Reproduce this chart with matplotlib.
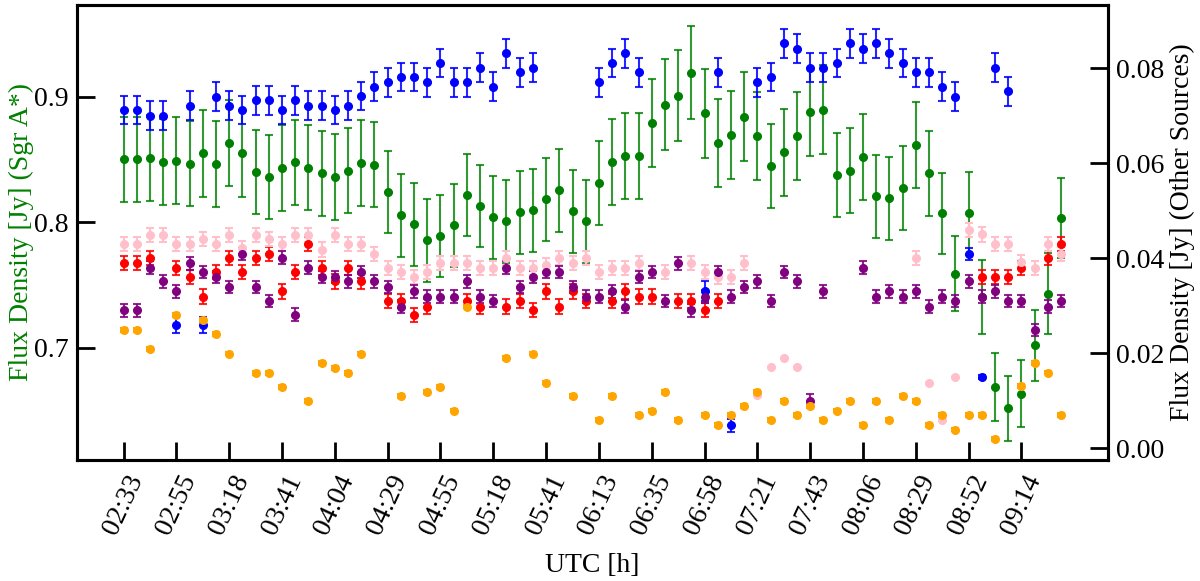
import numpy as np
import matplotlib
matplotlib.use("Agg")
import matplotlib.pyplot as plt

nan = np.nan

tick_labels = ["02:33", "02:55", "03:18", "03:41", "04:04", "04:29", "04:55", "05:18", "05:41",
               "06:13", "06:35", "06:58", "07:21", "07:43", "08:06", "08:29", "08:52", "09:14"]

# Sgr A* (left axis)
sgra = [0.850, 0.850, 0.851, 0.848, 0.849, 0.8465, 0.855, 0.8465, 0.863, 0.855,
        0.840, 0.836, 0.843, 0.8476, 0.8433, 0.839, 0.836, 0.841, 0.847, 0.8457,
        0.824, 0.8056, 0.7984, 0.7856, 0.789, 0.7974, 0.8218, 0.8128, 0.804, 0.8006,
        0.808, 0.8093, 0.8181, 0.8253, 0.8085, 0.8006, 0.8311, 0.848, 0.853, 0.8524,
        0.8788, 0.8936, 0.9008, 0.9189, 0.8868, 0.8633, 0.8694, 0.884, 0.8689, 0.8447,
        0.8556, 0.8684, 0.8875, 0.8896, 0.8375, 0.841, 0.8519, 0.8205, 0.8189, 0.8274,
        0.8615, 0.8389, 0.807, 0.759, 0.807, 0.7404, 0.6686, 0.6518, 0.6633, 0.7018,
        0.7431, 0.8034]
sgra_err = [0.034, 0.034, 0.034, 0.034, 0.0345, 0.034, 0.0346, 0.0343, 0.0346, 0.0346,
            0.0338, 0.0334, 0.0342, 0.034, 0.034, 0.034, 0.034, 0.034, 0.034, 0.034,
            0.033, 0.033, 0.033, 0.033, 0.033, 0.033, 0.0327, 0.0326, 0.033, 0.033,
            0.033, 0.033, 0.0329, 0.0333, 0.033, 0.033, 0.0334, 0.0343, 0.0343, 0.0343,
            0.0351, 0.0362, 0.0363, 0.0371, 0.0355, 0.035, 0.035, 0.0356, 0.035, 0.0338,
            0.0347, 0.0349, 0.035, 0.0354, 0.0338, 0.0339, 0.0343, 0.033, 0.0331, 0.0334,
            0.0346, 0.034, 0.0324, 0.030, 0.033, 0.0297, 0.027, 0.026, 0.0266, 0.0285,
            0.032, 0.032]

# Other sources (right axis)
blue = [0.0712, 0.0712, 0.0700, 0.0700, 0.0260, 0.0721, 0.0260, 0.0740, 0.0721, 0.0712,
        0.0732, 0.0732, 0.0712, 0.0732, 0.0721, 0.0721, 0.0712, 0.0721, 0.0741, 0.0761,
        0.0770, 0.0781, 0.0781, 0.0770, 0.0811, 0.0770, 0.0770, 0.0801, 0.0761, 0.0831,
        0.0791, 0.0801, nan, nan, nan, nan, 0.0770, 0.0811, 0.0831, 0.0791,
        nan, nan, nan, nan, 0.0330, 0.0791, 0.0048, nan, 0.0770, 0.0781,
        0.0852, 0.0841, 0.0801, 0.0801, 0.0811, 0.0852, 0.0841, 0.0852, 0.0831, 0.0811,
        0.0791, 0.0791, 0.0761, 0.0740, 0.0409, 0.0149, 0.0801, 0.0751, nan, nan,
        nan, nan]
blue_err = [0.003, 0.003, 0.003, 0.003, 0.0017, 0.003, 0.0017, 0.003, 0.003, 0.003,
            0.003, 0.003, 0.003, 0.003, 0.003, 0.003, 0.003, 0.003, 0.003, 0.003,
            0.003, 0.003, 0.003, 0.003, 0.003, 0.003, 0.003, 0.003, 0.003, 0.003,
            0.003, 0.003, 0.0, 0.0, 0.0, 0.0, 0.003, 0.003, 0.003, 0.003,
            0.0, 0.0, 0.0, 0.0, 0.0021, 0.003, 0.0014, 0.0, 0.003, 0.003,
            0.003, 0.003, 0.003, 0.003, 0.003, 0.003, 0.003, 0.003, 0.003, 0.003,
            0.003, 0.003, 0.003, 0.003, 0.0012, 0.0004, 0.003, 0.003, 0.0, 0.0,
            0.0, 0.0]

red = [0.0389, 0.0389, 0.0401, nan, 0.0380, 0.0360, 0.0319, 0.0371, 0.0401, 0.0371,
       0.0401, 0.0409, 0.0330, 0.0371, 0.0430, 0.0380, 0.0351, 0.0380, 0.0351, nan,
       0.0310, 0.0310, 0.0281, 0.0298, nan, nan, 0.0310, 0.0298, nan, 0.0298,
       0.0310, 0.0290, 0.0330, 0.0298, 0.0330, 0.0310, nan, 0.0310, 0.0330, 0.0319,
       0.0319, nan, 0.0310, 0.0310, 0.0290, 0.0310, nan, nan, nan, nan,
       nan, nan, nan, nan, nan, nan, nan, nan, nan, nan,
       nan, nan, nan, nan, nan, 0.0360, 0.0360, 0.0360, 0.0380, nan,
       0.0401, 0.0430]

pink = [0.0429, 0.0429, 0.0449, 0.0449, 0.0429, 0.0429, 0.0440, 0.0429, 0.0449, 0.0421,
        0.0449, 0.0440, 0.0429, 0.0449, 0.0449, 0.0418, 0.0449, 0.0429, 0.0430, 0.0409,
        0.0380, 0.0371, 0.0360, 0.0371, 0.0389, 0.0389, 0.0389, 0.0380, 0.0380, 0.0401,
        0.0380, 0.0380, 0.0385, 0.0401, 0.0389, 0.0401, 0.0371, 0.0380, 0.0380, 0.0389,
        nan, 0.0371, nan, 0.0389, 0.0371, 0.0360, 0.0360, 0.0389, 0.0111, 0.0170,
        0.0189, 0.0170, nan, nan, nan, nan, nan, nan, nan, nan,
        0.0401, 0.0138, 0.0060, 0.0149, 0.0460, 0.0450, 0.0430, 0.0430, 0.0392, 0.0380,
        0.0430, 0.0409]
pink_err = [0.0015] * 48 + [0.0, 0.0, 0.0, 0.0] + [0.0015] * 9 + [0.0, 0.0, 0.0] + [0.0015] * 8

purple = [0.0290, 0.0290, 0.0380, 0.0351, 0.0330, 0.0389, 0.0371, 0.0360, 0.0339, 0.0409,
          0.0339, 0.0310, 0.0401, 0.0281, 0.0380, 0.0360, 0.0360, 0.0351, 0.0371, 0.0351,
          0.0339, 0.0298, 0.0330, 0.0319, 0.0319, 0.0319, 0.0351, 0.0319, 0.0310, 0.0380,
          0.0339, 0.0360, 0.0371, 0.0371, 0.0339, 0.0319, 0.0319, 0.0330, 0.0298, 0.0360,
          0.0371, 0.0310, 0.0389, 0.0290, 0.0319, 0.0371, 0.0319, 0.0339, 0.0351, 0.0310,
          0.0371, 0.0351, 0.0100, 0.0330, nan, nan, 0.0380, 0.0319, 0.0330, 0.0319,
          0.0330, 0.0298, 0.0319, 0.0310, 0.0351, 0.0319, 0.0330, 0.0310, 0.0310, 0.0249,
          0.0298, 0.0310]

orange = [0.0249, 0.0249, 0.0208, nan, 0.0281, nan, 0.0270, 0.0240, 0.0199, nan,
          0.0158, 0.0158, 0.0129, nan, 0.0099, 0.0179, 0.0169, 0.0158, 0.0199, nan,
          nan, 0.0109, nan, 0.0118, 0.0129, 0.0079, 0.0298, nan, nan, 0.0189,
          nan, 0.0199, 0.0138, nan, 0.0109, nan, 0.0059, 0.0109, nan, 0.0069,
          0.0079, 0.0118, 0.0059, nan, 0.0069, 0.0049, 0.0069, 0.0089, 0.0119, 0.0059,
          0.0100, 0.0069, 0.0089, 0.0059, 0.0079, 0.0100, 0.0049, 0.0100, 0.0059, 0.0109,
          0.0100, 0.0049, 0.0069, 0.0039, 0.0069, 0.0069, 0.0019, nan, 0.0130, 0.0179,
          0.0159, 0.0069]

red_err = 0.0015
purple_err = 0.0013
orange_err = 0.0004

plt.rcParams['font.family'] = ['Liberation Serif', 'DejaVu Serif']
plt.rcParams['font.size'] = 20

fig = plt.figure(figsize=(12, 5.81), dpi=100)
ax1 = fig.add_axes([0.0639, 0.2083, 0.8594, 0.7831])
ax2 = ax1.twinx()

x = np.arange(len(sgra))

ekw = dict(fmt='o', markersize=5.5, capsize=3, elinewidth=1.5, capthick=1.5)

ax1.errorbar(x, sgra, yerr=sgra_err, color='green', ecolor=(0.0, 0.5, 0.0, 0.8), **ekw)

ax2.errorbar(x, blue, yerr=blue_err, color='blue', ecolor=(0, 0, 1, 0.85), **ekw)
ax2.errorbar(x, red, yerr=red_err, color='red', ecolor=(1, 0, 0, 0.85), **ekw)
ax2.errorbar(x, pink, yerr=pink_err, color='pink', ecolor='pink', **ekw)
ax2.errorbar(x, purple, yerr=purple_err, color='purple', ecolor=(0.5, 0, 0.5, 0.85), **ekw)
ax2.errorbar(x, orange, yerr=orange_err, color='orange', ecolor='orange', **ekw)

ax1.set_xlim(-3.55, 74.55)
ax1.set_ylim(0.6105, 0.973)
ax2.set_ylim(-0.0025, 0.0933)

tick_pos = np.arange(0, len(tick_labels) * 4, 4)
ax1.set_xticks(tick_pos)
ax1.set_xticklabels(tick_labels, rotation=65)
ax1.set_yticks([0.7, 0.8, 0.9])
ax1.set_yticklabels(['0.7', '0.8', '0.9'])
ax2.set_yticks([0.0, 0.02, 0.04, 0.06, 0.08])
ax2.set_yticklabels(['0.00', '0.02', '0.04', '0.06', '0.08'])

for ax in (ax1, ax2):
    ax.tick_params(direction='in', length=13, width=2, labelsize=20)
    for s in ax.spines.values():
        s.set_linewidth(2.2)
ax1.tick_params(axis='x', pad=8)
ax1.tick_params(axis='y', pad=6)
ax2.tick_params(axis='y', pad=6)

ax1.set_xlabel('UTC [h]', fontsize=20, labelpad=10)
ax1.set_ylabel('Flux Density [Jy] (Sgr A*)', color='green', fontsize=20, labelpad=0)
ax2.set_ylabel('Flux Density [Jy] (Other Sources)', color='black', fontsize=20)

fig.savefig('out.png', dpi=100)
